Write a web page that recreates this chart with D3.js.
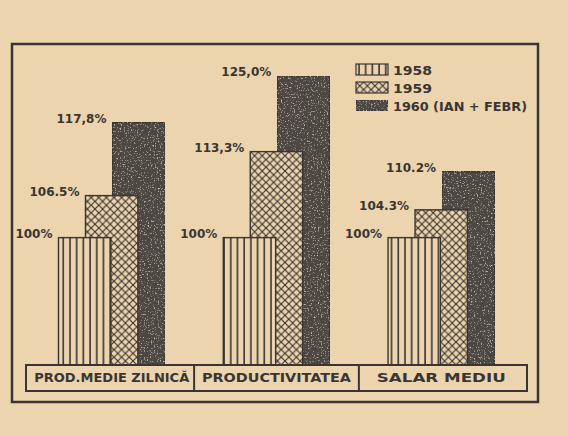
<!DOCTYPE html>
<html>
<head>
<meta charset="utf-8">
<script src="https://cdn.jsdelivr.net/npm/d3@7"></script>
<style>
  html, body { margin: 0; padding: 0; background: #ebd4ae; }
  svg { display: block; }
</style>
</head>
<body>
<script>
const categories = ["PROD.MEDIE ZILNICĂ", "PRODUCTIVITATEA", "SALAR MEDIU"];
const series = ["1958", "1959", "1960 (IAN + FEBR)"];
const values1958 = [100, 100, 100];
const values1959 = [106.5, 113.3, 104.3];
const values1960 = [117.8, 125.0, 110.2];
const labels1958 = ["100%", "100%", "100%"];
const labels1959 = ["106.5%", "113,3%", "104.3%"];
const labels1960 = ["117,8%", "125,0%", "110.2%"];

const W = 568, H = 436;
const paper = "#ebd4ae", ink = "#3a3532", dark = "#4d4743";

const svg = d3.select("body").append("svg").attr("width", W).attr("height", H);
svg.append("rect").attr("width", W).attr("height", H).attr("fill", paper);

const defs = svg.append("defs");
// vertical lines (1958)
const pv = defs.append("pattern").attr("id", "pv").attr("patternUnits", "userSpaceOnUse")
  .attr("width", 6.7).attr("height", 10);
pv.append("rect").attr("width", 6.7).attr("height", 10).attr("fill", paper);
pv.append("line").attr("x1", 3).attr("x2", 3).attr("y1", 0).attr("y2", 10)
  .attr("stroke", ink).attr("stroke-width", 1.6);
// cross hatch (1959)
const pc = defs.append("pattern").attr("id", "pc").attr("patternUnits", "userSpaceOnUse")
  .attr("width", 7.6).attr("height", 7.6);
pc.append("rect").attr("width", 7.6).attr("height", 7.6).attr("fill", paper);
pc.append("path").attr("d", "M-1,-1L8.6,8.6M8.6,-1L-1,8.6").attr("stroke", ink).attr("stroke-width", 1.15);
// mottled dark (1960)
const f = defs.append("filter").attr("id", "mottle").attr("x", 0).attr("y", 0).attr("width", "100%").attr("height", "100%");
f.append("feTurbulence").attr("type", "fractalNoise").attr("baseFrequency", 0.7).attr("numOctaves", 2).attr("seed", 4).attr("result", "n");
f.append("feColorMatrix").attr("in", "n").attr("type", "matrix")
  .attr("values", "0 0 0 0 0.72  0 0 0 0 0.67  0 0 0 0 0.62  0 0 0 3 -1.75").attr("result", "spots");
f.append("feComposite").attr("in", "spots").attr("in2", "SourceGraphic").attr("operator", "atop");

const x = d3.scaleBand().domain(categories).range([58.5, 494.5]).paddingInner(0.354).paddingOuter(0);
const xs = d3.scaleBand().domain(series).range([0, 81]);
const barW = xs.step() * 1.94;
const y = d3.scaleLinear().domain([80.3, 125]).range([365, 76]);

// outer frame
svg.append("rect").attr("x", 12).attr("y", 44).attr("width", 526).attr("height", 358)
  .attr("fill", "none").attr("stroke", ink).attr("stroke-width", 2.5);

const seriesData = [
  { key: series[2], vals: values1960, labels: labels1960, fill: dark, filter: "url(#mottle)" },
  { key: series[1], vals: values1959, labels: labels1959, fill: "url(#pc)", filter: null },
  { key: series[0], vals: values1958, labels: labels1958, fill: "url(#pv)", filter: null }
];

const gBars = svg.append("g");
seriesData.forEach(s => {
  gBars.selectAll(null).data(categories).enter().append("rect")
    .attr("x", c => x(c) + xs(s.key))
    .attr("y", (c, i) => y(s.vals[i]))
    .attr("width", barW)
    .attr("height", (c, i) => y.range()[0] - y(s.vals[i]))
    .attr("fill", s.fill)
    .attr("filter", s.filter)
    .attr("stroke", ink).attr("stroke-width", 1.4);
});

// value labels
const gLab = svg.append("g").attr("font-family", "DejaVu Sans, sans-serif")
  .attr("font-weight", "bold").attr("font-size", 12).attr("fill", ink).attr("text-anchor", "end");
seriesData.forEach(s => {
  gLab.selectAll(null).data(categories).enter().append("text")
    .attr("x", c => x(c) + xs(s.key) - 6)
    .attr("y", (c, i) => y(s.vals[i]))
    .text((c, i) => s.labels[i]);
});

// category box
const boxL = x.range()[0] - 32.5, boxR = x.range()[1] + 32.5;
svg.append("rect").attr("x", boxL).attr("y", 365).attr("width", boxR - boxL).attr("height", 26)
  .attr("fill", paper).attr("stroke", ink).attr("stroke-width", 2);
const divs = [0, 1].map(i => (x(categories[i]) + x.bandwidth() + x(categories[i + 1])) / 2);
svg.selectAll(null).data(divs).enter().append("line")
  .attr("x1", d => d).attr("x2", d => d).attr("y1", 365).attr("y2", 391)
  .attr("stroke", ink).attr("stroke-width", 2);

const axis = d3.axisBottom(x).tickSize(0).tickPadding(8);
const gAx = svg.append("g").attr("transform", "translate(0,365)").call(axis);
gAx.select(".domain").remove();
const catWidths = [155, 149, 129];
gAx.selectAll("text")
  .attr("font-family", "DejaVu Sans, sans-serif").attr("font-weight", "bold")
  .attr("font-size", 13).attr("fill", ink)
  .attr("textLength", (d, i) => catWidths[i]).attr("lengthAdjust", "spacingAndGlyphs");

// legend
const legFills = { [series[0]]: "url(#pv)", [series[1]]: "url(#pc)", [series[2]]: dark };
const leg = svg.append("g").attr("transform", "translate(356,64)");
series.forEach((s, i) => {
  const g = leg.append("g").attr("transform", `translate(0,${i * 18})`);
  g.append("rect").attr("width", 32).attr("height", 11).attr("fill", legFills[s])
    .attr("filter", i === 2 ? "url(#mottle)" : null)
    .attr("stroke", ink).attr("stroke-width", 1.2);
  g.append("text").attr("x", 37).attr("y", 10.5)
    .attr("font-family", "DejaVu Sans, sans-serif").attr("font-weight", "bold")
    .attr("font-size", 13).attr("fill", ink).text(s)
    .attr("textLength", i === 2 ? 134 : 39).attr("lengthAdjust", "spacingAndGlyphs");
});
</script>
</body>
</html>
